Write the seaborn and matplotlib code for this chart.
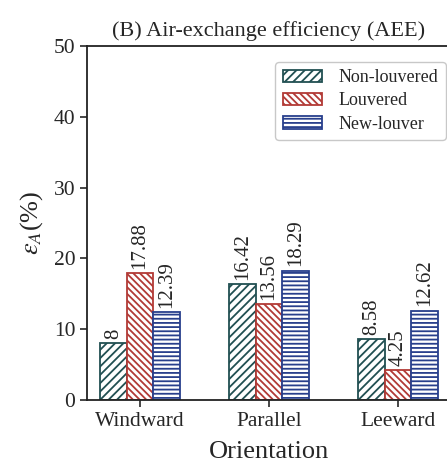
import matplotlib
matplotlib.use("Agg")
import matplotlib.pyplot as plt
import seaborn as sns
import pandas as pd

orientations = ["Windward", "Parallel", "Leeward"]
series = ["Non-louvered", "Louvered", "New-louver"]
non_louvered = [8, 16.42, 8.58]
louvered = [17.88, 13.56, 4.25]
new_louver = [12.39, 18.29, 12.62]

rows = []
for name, vals in zip(series, [non_louvered, louvered, new_louver]):
    for o, v in zip(orientations, vals):
        rows.append({"Orientation": o, "Type": name, "Value": v})
df = pd.DataFrame(rows)

sns.set_style("ticks")
plt.rcParams["font.family"] = ["Liberation Serif", "DejaVu Serif"]
plt.rcParams["mathtext.fontset"] = "stix"
plt.rcParams["hatch.linewidth"] = 1.3

edge_colors = ["#214f52", "#b23a36", "#283f8c"]
hatches = ["////", "\\\\\\\\\\", "----"]

fig = plt.figure(figsize=(4.47, 4.65), dpi=100)
ax = fig.add_axes([87/447, 1 - 400/465, (451 - 87)/447, (400 - 46)/465])

sns.barplot(data=df, x="Orientation", y="Value", hue="Type", order=orientations,
            hue_order=series, palette=["white"] * 3, width=0.62, ax=ax,
            saturation=1, legend=True)

for cont, ec, h in zip(ax.containers, edge_colors, hatches):
    for bar in cont:
        bar.set_edgecolor(ec)
        bar.set_hatch(h)
        bar.set_linewidth(1.3)
    ax.bar_label(cont, fmt="%g", rotation=90, padding=3, fontsize=15)

ax.set_ylim(0, 50)
ax.set_xlim(-0.412, 2.412)
ax.set_yticks([0, 10, 20, 30, 40, 50])
ax.tick_params(axis="both", labelsize=15.5, direction="out", length=5, width=1.2)
ax.set_xlabel("Orientation", fontsize=19, labelpad=7)
ax.set_ylabel(r"$\varepsilon_A$(%)", fontsize=19, labelpad=6)
ax.set_title("(B) Air-exchange efficiency (AEE)", fontsize=16, pad=7)
for s in ax.spines.values():
    s.set_linewidth(1.3)
    s.set_color("#222222")

handles, labels = ax.get_legend_handles_labels()
for hnd, ec, h in zip(handles, edge_colors, hatches):
    hnd.set_edgecolor(ec)
    hnd.set_hatch(h)
    hnd.set_facecolor("white")
    hnd.set_linewidth(1.3)
ax.legend(handles, labels, loc="upper right", bbox_to_anchor=(0.985, 0.955),
          fontsize=13, frameon=True, edgecolor="#bbbbbb", fancybox=True,
          borderaxespad=0.0, handlelength=2.2, handletextpad=0.9,
          labelspacing=0.35)

fig.savefig("out.png", dpi=100)
